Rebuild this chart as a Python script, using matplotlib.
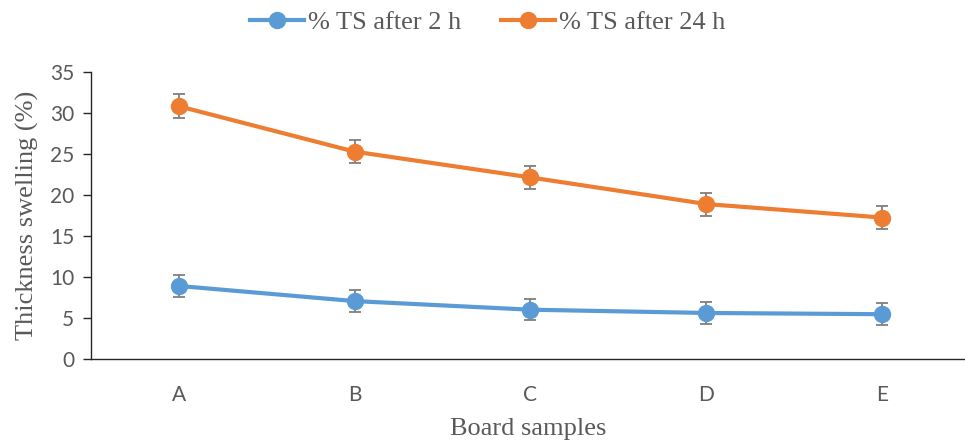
import matplotlib.pyplot as plt
import numpy as np

samples = ['A', 'B', 'C', 'D', 'E']
ts_2h = [8.9, 7.05, 6.0, 5.6, 5.45]
ts_24h = [30.85, 25.3, 22.15, 18.9, 17.25]
err_2h = [1.3, 1.3, 1.28, 1.3, 1.33]
err_24h = [1.45, 1.4, 1.38, 1.4, 1.42]

blue = '#5B9BD5'
orange = '#ED7D31'
grey = '#595959'
serif = 'Liberation Serif'
sans = 'Lato'

fig = plt.figure(figsize=(9.65, 4.43), dpi=100)
ax = fig.add_axes([0.094, 0.19, 0.906, 0.647])

x = np.arange(len(samples))
ax.errorbar(x, ts_2h, yerr=err_2h, color=blue, lw=3, marker='o', ms=11.5,
            ecolor='#7F7F7F', elinewidth=1.3, capsize=4.5, capthick=1.3,
            label='% TS after 2 h', zorder=3)
ax.errorbar(x, ts_24h, yerr=err_24h, color=orange, lw=3, marker='o', ms=11.5,
            ecolor='#7F7F7F', elinewidth=1.3, capsize=4.5, capthick=1.3,
            label='% TS after 24 h', zorder=3)

ax.set_xlim(-0.5, 4.47)
ax.set_ylim(0, 35)
ax.set_yticks(range(0, 36, 5))
ax.set_xticks(x)
ax.set_xticklabels(samples)

for s in ['top', 'right']:
    ax.spines[s].set_visible(False)
for s in ['left', 'bottom']:
    ax.spines[s].set_color('#262626')
    ax.spines[s].set_linewidth(1.0)

ax.tick_params(axis='y', length=6, width=1, color='#262626', labelsize=15,
               labelcolor=grey, pad=6)
ax.tick_params(axis='x', length=0, labelsize=15, labelcolor=grey, pad=19)
for lab in ax.get_xticklabels() + ax.get_yticklabels():
    lab.set_fontfamily(sans)

ax.set_ylabel('Thickness swelling (%)', fontsize=19, color=grey,
              fontfamily=serif, labelpad=8)
ax.set_xlabel('Board samples', fontsize=19, color=grey,
              fontfamily=serif, labelpad=9)

handles, labels = ax.get_legend_handles_labels()
handles = [h[0] for h in handles]
leg = fig.legend(handles, labels, loc='upper center', bbox_to_anchor=(0.505, 1.03),
                 ncol=2, frameon=False, handlelength=2.05, columnspacing=1.5,
                 handletextpad=0.15, prop={'family': serif, 'size': 19})
for t in leg.get_texts():
    t.set_color(grey)

fig.savefig('out.png', dpi=100)
